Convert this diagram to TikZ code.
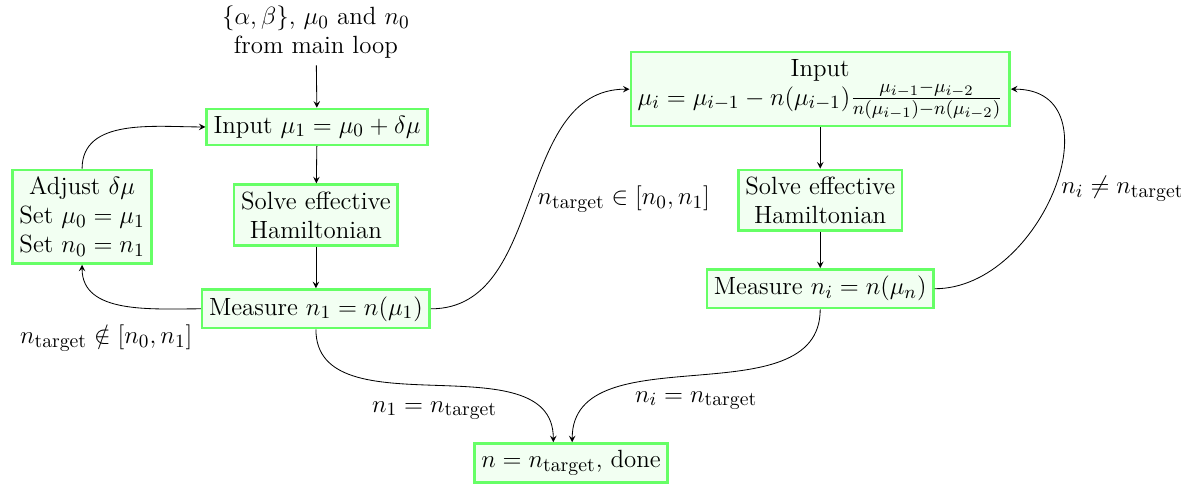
\documentclass[tikz,border=0pt]{standalone}
\usepackage{amsmath}
\usetikzlibrary{arrows.meta}
\DeclareMathSizes{12}{12}{9.5}{7}
\begin{document}
\begin{tikzpicture}[x=1cm,y=1cm,>=stealth,
  every node/.style={font=\fontsize{12}{14}\selectfont},
  stage/.style={draw=green!60,very thick,fill=green!5,align=center}]
  \useasboundingbox (0,0) rectangle (20,8.18);
  % left loop
  \node[align=center] (source) at (5.35,7.64) {$\{\alpha,\beta\}$, $\mu_0$ and $n_0$\\from main loop};
  \node[stage] (input1) at (5.37,6.03) {Input $\mu_1=\mu_0+\delta\mu$};
  \node[stage] (solve1) at (5.35,4.54) {Solve effective\\Hamiltonian};
  \node[stage] (measure1) at (5.35,2.95) {Measure $n_1=n(\mu_1)$};
  \node[stage] (adjust) at (1.39,4.51) {Adjust $\delta\mu$\\Set $\mu_0=\mu_1$\\Set $n_0=n_1$};
  % right loop
  \node[stage] (input2) at (13.89,6.67) {Input\\$\mu_i=\mu_{i-1}-n(\mu_{i-1})\frac{\mu_{i-1}-\mu_{i-2}}{n(\mu_{i-1})-n(\mu_{i-2})}$};
  \node[stage] (solve2) at (13.89,4.79) {Solve effective\\Hamiltonian};
  \node[stage] (measure2) at (13.89,3.29) {Measure $n_i=n(\mu_n)$};
  \node[stage] (done) at (9.67,0.34) {$n=n_{\text{target}}$, done};

  \draw[->] (source) -- (input1);
  \draw[->] (input1) -- (solve1);
  \draw[->] (solve1) -- (measure1);
  \draw[->] (measure1.west) to[out=180,in=-90]
    node[pos=0.5,below=6pt,xshift=-8pt] {$n_{\text{target}}\notin[n_0,n_1]$} (adjust.south);
  \draw[->] (adjust.north) to[out=90,in=180] (input1.west);
  \draw[->] (measure1.east) to[out=0,in=180]
    node[pos=0.5,right] {$n_{\text{target}}\in[n_0,n_1]$} (input2.west);
  \draw[->] (input2) -- (solve2);
  \draw[->] (solve2) -- (measure2);
  \draw[->] (measure2.east) to[out=0,in=0,looseness=1.3]
    node[pos=0.5,right] {$n_i\neq n_{\text{target}}$} (input2.east);
  \draw[->] (measure1.south) to[out=-90,in=90]
    node[pos=0.5,below=4pt] {$n_1=n_{\text{target}}$} ([xshift=-3mm]done.north);
  \draw[->] (measure2.south) to[out=-90,in=90]
    node[pos=0.5,below=4pt] {$n_i=n_{\text{target}}$} ([xshift=0.2mm]done.north);
\end{tikzpicture}
\end{document}
